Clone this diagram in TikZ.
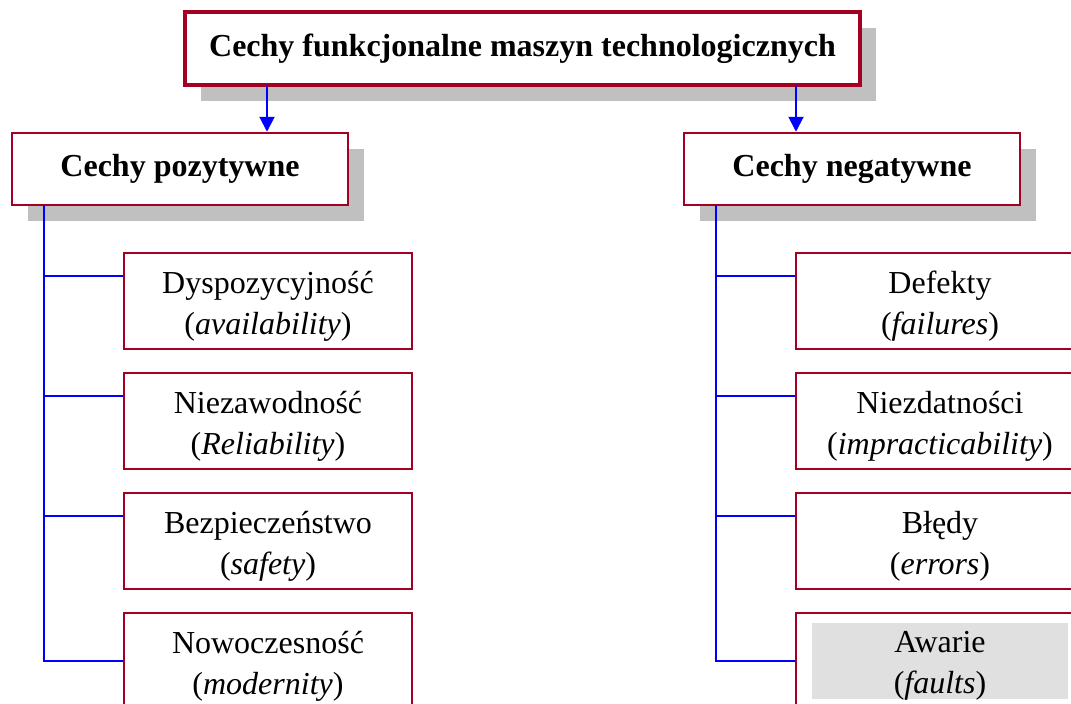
\documentclass[tikz,border=0pt]{standalone}
\usepackage{fontspec}
\setmainfont{Liberation Serif}
\usetikzlibrary{shadows,arrows.meta,calc}
\definecolor{boxred}{RGB}{165,0,33}
\definecolor{shadowgray}{RGB}{192,192,192}
\definecolor{lightgray}{RGB}{224,224,224}
\tikzset{
  sh/.style={drop shadow={shadow xshift=16pt,shadow yshift=-16pt,fill=shadowgray,opacity=1}},
  titlebox/.style={draw=boxred,line width=3.5pt,fill=white,sh,inner sep=0pt,
    minimum width=675pt,minimum height=73pt,font=\fontsize{32}{40}\selectfont\bfseries},
  headbox/.style={draw=boxred,line width=2.5pt,fill=white,sh,inner sep=0pt,
    minimum width=336pt,minimum height=72pt,font=\fontsize{32}{40}\selectfont\bfseries},
  childbox/.style={draw=boxred,line width=2pt,inner sep=0pt,
    minimum width=288pt,minimum height=96pt},
  childtext/.style={align=center,inner sep=0pt,font=\fontsize{32}{41}\selectfont},
  conn/.style={draw=blue,line width=2pt},
  arr/.style={conn,-{Triangle[length=15pt,width=15pt]}},
}
\begin{document}
\begin{tikzpicture}[x=1pt,y=-1pt]
\useasboundingbox (0,0) rectangle (1071,704);
\begin{scope}
\clip (0,0) rectangle (1071,704);
% title and headers
\node[titlebox] (title) at (522.5,48.5) {\raisebox{-2pt}{Cechy funkcjonalne maszyn technologicznych}};
\node[headbox] (hL) at (180,169) {Cechy pozytywne};
\node[headbox] (hR) at (852,169) {Cechy negatywne};
% arrows
\coordinate (aL) at (267,85);
\coordinate (aR) at (796,85);
\draw[arr] (aL) -- (aL |- hL.north);
\draw[arr] (aR) -- (aR |- hR.north);
% children left
\node[childbox] (cL1) at (268,301) {};
\node[childbox] (cL2) at (268,421) {};
\node[childbox] (cL3) at (268,541) {};
\node[childbox] (cL4) at (268,661) {};
\node[childtext] (tL1) at (268,306) {Dyspozycyjność\\(\textit{availability})};
\node[childtext] (tL2) at (268,426) {Niezawodność\\(\textit{Reliability})};
\node[childtext] (tL3) at (268,546) {Bezpieczeństwo\\(\textit{safety})};
\node[childtext] (tL4) at (268,666) {Nowoczesność\\(\textit{modernity})};
% children right
\node[childbox] (cR1) at (940,301) {};
\node[childbox] (cR2) at (940,421) {};
\node[childbox] (cR3) at (940,541) {};
\node[childbox] (cR4) at (940,661) {};
\fill[lightgray] (812,623) rectangle (1068,699);
\node[childtext] (tR1) at (940,306) {Defekty\\(\textit{failures})};
\node[childtext] (tR2) at (940,426) {Niezdatności\\(\textit{impracticability})};
\node[childtext] (tR3) at (940,546) {Błędy\\(\textit{errors})};
\node[childtext] (tR4) at (940,666) {Awarie\\(\textit{faults})};
% connectors left
\coordinate (vL) at (44,205);
\coordinate (bL1) at ($(cL1.north west)+(0,24)$);
\coordinate (bL2) at ($(cL2.north west)+(0,24)$);
\coordinate (bL3) at ($(cL3.north west)+(0,24)$);
\draw[conn] (vL) |- (cL4.west);
\draw[conn] (vL |- bL1) -- (bL1);
\draw[conn] (vL |- bL2) -- (bL2);
\draw[conn] (vL |- bL3) -- (bL3);
% connectors right
\coordinate (vR) at (716,205);
\coordinate (bR1) at ($(cR1.north west)+(0,24)$);
\coordinate (bR2) at ($(cR2.north west)+(0,24)$);
\coordinate (bR3) at ($(cR3.north west)+(0,24)$);
\draw[conn] (vR) |- (cR4.west);
\draw[conn] (vR |- bR1) -- (bR1);
\draw[conn] (vR |- bR2) -- (bR2);
\draw[conn] (vR |- bR3) -- (bR3);
\end{scope}
\end{tikzpicture}
\end{document}
